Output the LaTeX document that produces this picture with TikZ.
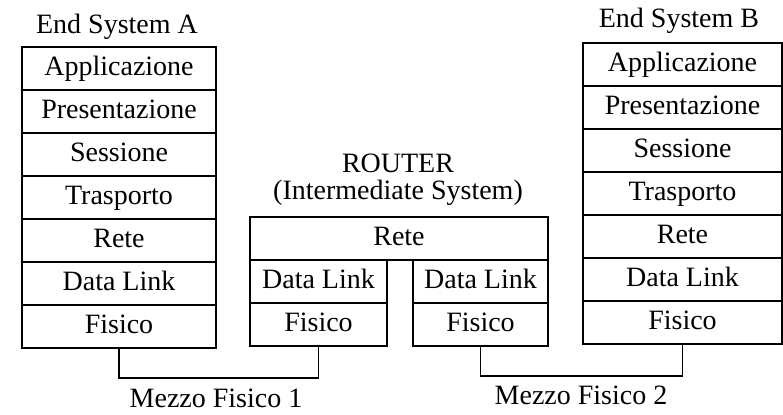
\documentclass[tikz,border=0pt]{standalone}
\usepackage{fontspec}
\setmainfont{Liberation Serif}
\usetikzlibrary{positioning}

\begin{document}
\begin{tikzpicture}[
	x = 0.5pt, y = -0.5pt,
	node distance = 0pt,
	every node/.style = {
		font = \fontsize{14}{13.5}\selectfont
	},
	layer/.style = {
		draw,
		line width = 0.9pt,
		minimum height = 21.5pt,
		text height = 10pt,
		text depth = 3pt,
		inner sep = 0pt,
		outer sep = 0pt,
		align = center,
	},
	endsys/.style = {
		layer,
		minimum width = 97pt
	},
	wire/.style = {
		line width = 0.8pt
	}
	]

	\useasboundingbox (0,0) rectangle (783,414);

	% End System A
	\node[anchor=base] (titleA) at (117,33) {End System A};
	\node[endsys] (aApp) at (119,68.5) {Applicazione};
	\node[endsys, below = of aApp] (aPres) {Presentazione};
	\node[endsys, below = of aPres] (aSess) {Sessione};
	\node[endsys, below = of aSess] (aTrasp) {Trasporto};
	\node[endsys, below = of aTrasp] (aRete) {Rete};
	\node[endsys, below = of aRete] (aDL) {Data Link};
	\node[endsys, below = of aDL] (aFis) {Fisico};

	% Router
	\node[align=center, inner sep=0pt] (router) at (398,180) {ROUTER\\(Intermediate System)};
	\node[layer, minimum width = 149pt] (rRete) at (399,238.5) {Rete};
	\node[layer, minimum width = 68.5pt, anchor = north west] (r1DL) at (rRete.south west) {Data Link};
	\node[layer, minimum width = 68.5pt, below = of r1DL] (r1Fis) {Fisico};
	\node[layer, minimum width = 67.5pt, anchor = north east] (r2DL) at (rRete.south east) {Data Link};
	\node[layer, minimum width = 67.5pt, below = of r2DL] (r2Fis) {Fisico};

	% End System B
	\node[anchor=base] (titleB) at (679,27) {End System B};
	\node[endsys, minimum width = 99.5pt] (bApp) at (682.5,64.5) {Applicazione};
	\node[endsys, minimum width = 99.5pt, below = of bApp] (bPres) {Presentazione};
	\node[endsys, minimum width = 99.5pt, below = of bPres] (bSess) {Sessione};
	\node[endsys, minimum width = 99.5pt, below = of bSess] (bTrasp) {Trasporto};
	\node[endsys, minimum width = 99.5pt, below = of bTrasp] (bRete) {Rete};
	\node[endsys, minimum width = 99.5pt, below = of bRete] (bDL) {Data Link};
	\node[endsys, minimum width = 99.5pt, below = of bDL] (bFis) {Fisico};

	% mezzi fisici
	\node[anchor=base] (mezzo1) at (216,407) {Mezzo Fisico 1};
	\node[anchor=base] (mezzo2) at (581,404) {Mezzo Fisico 2};
	\coordinate (m1) at (218,378);
	\coordinate (m2) at (581,376);

	\draw[wire] (aFis.south) |- (m1) -| (r1Fis.south);
	\draw[wire] (r2Fis.south) |- (m2) -| (bFis.south);

\end{tikzpicture}
\end{document}
